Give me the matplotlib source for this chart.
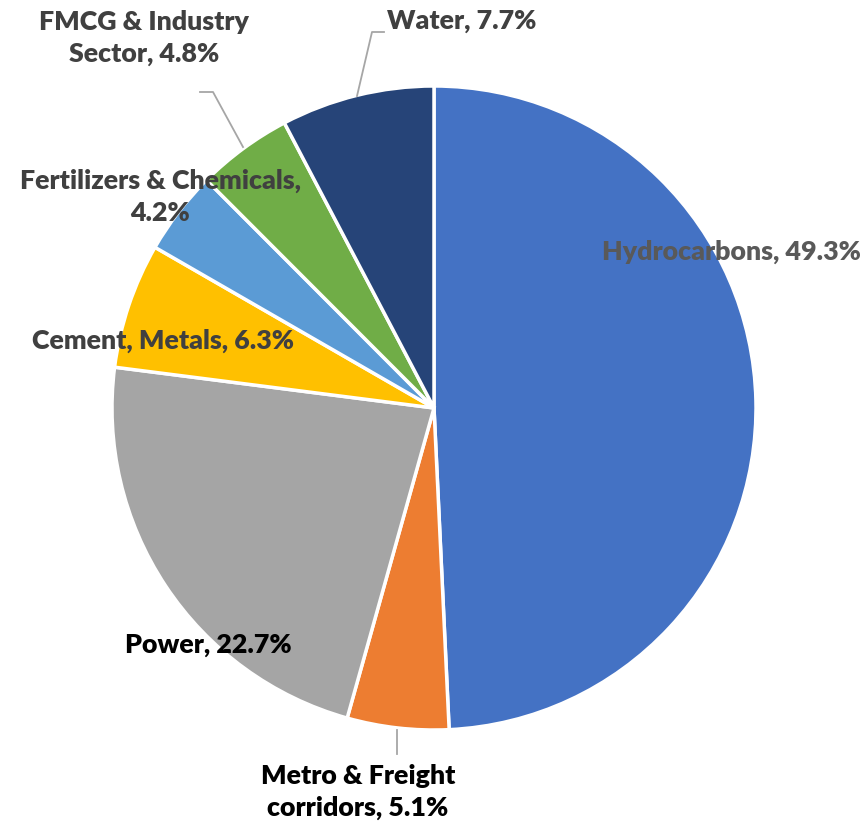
import matplotlib
matplotlib.use("Agg")
import matplotlib.pyplot as plt

categories = ["Hydrocarbons", "Metro & Freight\ncorridors", "Power", "Cement, Metals",
              "Fertilizers & Chemicals,\n", "FMCG & Industry\nSector", "Water"]
values = [49.3, 5.1, 22.7, 6.3, 4.2, 4.8, 7.7]
colors = ["#4472C4", "#ED7D31", "#A5A5A5", "#FFC000", "#5B9BD5", "#70AD47", "#264478"]

W, H = 866, 825
fig = plt.figure(figsize=(W / 100, H / 100), dpi=100)
ax = fig.add_axes([0, 0, 1, 1])

cx, cy, r = 434, H - 408, 322
ax.pie(values, colors=colors, startangle=90, counterclock=False,
       center=(cx, cy), radius=r,
       wedgeprops=dict(edgecolor="white", linewidth=2.5), frame=True)
ax.set_xlim(0, W)
ax.set_ylim(0, H)
ax.set_aspect("equal")
ax.axis("off")

font = dict(family=["Lato", "DejaVu Sans"], fontweight="heavy", fontsize=19.3)

def lab(x, y, s, color):
    ax.text(x, H - y, s, ha="center", va="center", color=color,
            linespacing=1.4, **font)

lab(731, 252, f"Hydrocarbons, {values[0]}%", "#595959")
lab(358, 792, f"Metro & Freight\ncorridors, {values[1]}%", "#000000")
lab(208, 645, f"Power, {values[2]}%", "#000000")
lab(163, 341, f"Cement, Metals, {values[3]}%", "#404040")
lab(160, 197, f"Fertilizers & Chemicals,\n{values[4]}%", "#404040")
lab(144, 38, f"FMCG & Industry\nSector, {values[5]}%", "#404040")
lab(462, 21, f"Water, {values[6]}%", "#404040")

lc = "#A6A6A6"
ax.plot([397, 397], [H - 730, H - 754], color=lc, lw=1.3)
ax.plot([357, 372, 384], [H - 96, H - 32, H - 32], color=lc, lw=1.3)
ax.plot([243, 213, 200], [H - 147, H - 92, H - 92], color=lc, lw=1.3)

fig.savefig("out.png", dpi=100, facecolor="white")
